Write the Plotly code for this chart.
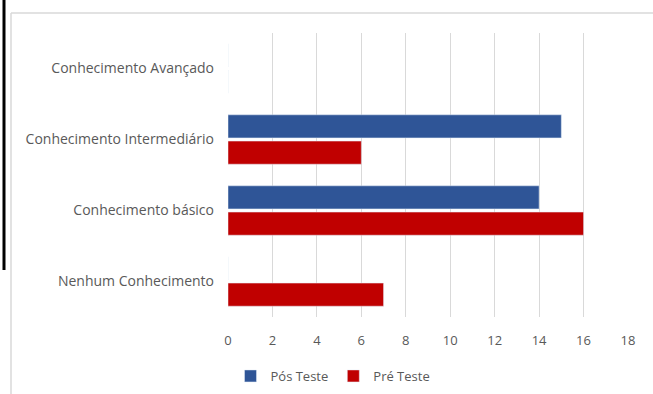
import plotly.graph_objects as go

categories = ["Nenhum Conhecimento", "Conhecimento básico", "Conhecimento Intermediário", "Conhecimento Avançado"]
pos_teste = [0, 14, 15, 0]
pre_teste = [7, 16, 6, 0]
x_ticks = [0, 2, 4, 6, 8, 10, 12, 14, 16, 18]

W, H = 653, 394
L, R, T, B = 228, 25, 33, 77
pw, ph = W - L - R, H - T - B

def px(x):
    return (x - L) / pw

def py(y):
    return (H - B - y) / ph

fig = go.Figure()
fig.add_trace(go.Bar(y=categories, x=pre_teste, name="Pré Teste", orientation="h",
                     marker_color="#C00000", legendrank=2))
fig.add_trace(go.Bar(y=categories, x=pos_teste, name="Pós Teste", orientation="h",
                     marker_color="#2F5597", legendrank=1))

font_color = "#595959"
fig.update_layout(
    width=W, height=H,
    margin=dict(l=L, r=R, t=T, b=B, autoexpand=False),
    paper_bgcolor="white", plot_bgcolor="white",
    barmode="group", bargap=0.26, bargroupgap=0.12,
    font=dict(family="Open Sans, Liberation Sans, sans-serif", size=13, color=font_color),
    xaxis=dict(range=[0, 18], tickvals=x_ticks, showgrid=True, gridcolor="#D9D9D9",
               gridwidth=1, zeroline=False, showline=False, ticks="",
               ticklabelstandoff=14,
               tickfont=dict(size=13, color=font_color), fixedrange=True),
    yaxis=dict(categoryorder="array", categoryarray=categories, showgrid=False,
               showline=False, ticks="", zeroline=False, ticklabelstandoff=13,
               tickfont=dict(size=14, color=font_color), fixedrange=True),
    showlegend=True,
    legend=dict(orientation="h", x=px(333), xanchor="center", y=py(376), yanchor="middle",
                itemwidth=30, font=dict(size=13, color=font_color), bgcolor="rgba(0,0,0,0)"),
    shapes=[
        dict(type="line", xref="paper", yref="paper", x0=px(4), x1=px(4), y0=py(0), y1=py(270),
             line=dict(color="black", width=3)),
        dict(type="line", xref="paper", yref="paper", x0=px(11), x1=px(653), y0=py(13), y1=py(13),
             line=dict(color="#D9D9D9", width=1.5)),
        dict(type="line", xref="paper", yref="paper", x0=px(11), x1=px(11), y0=py(13), y1=py(394),
             line=dict(color="#D9D9D9", width=1.5)),
    ],
)

fig.write_html("out.html")
